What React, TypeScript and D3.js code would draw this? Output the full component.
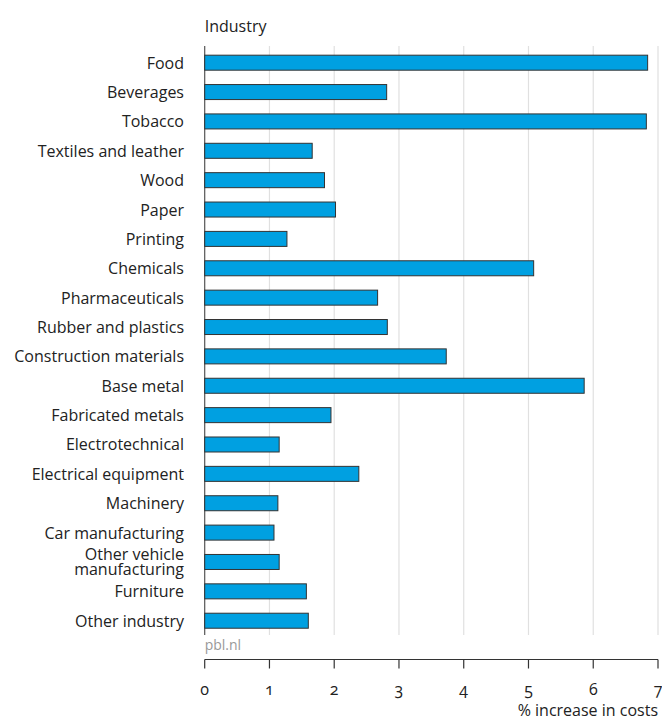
import React from "react";
import * as d3 from "d3";

const categories = [
  "Food", "Beverages", "Tobacco", "Textiles and leather", "Wood", "Paper", "Printing",
  "Chemicals", "Pharmaceuticals", "Rubber and plastics", "Construction materials",
  "Base metal", "Fabricated metals", "Electrotechnical", "Electrical equipment",
  "Machinery", "Car manufacturing", "Other vehicle manufacturing", "Furniture", "Other industry",
];
const values = [
  6.84, 2.81, 6.82, 1.66, 1.85, 2.02, 1.27,
  5.08, 2.67, 2.82, 3.73,
  5.86, 1.95, 1.15, 2.38,
  1.13, 1.07, 1.15, 1.57, 1.60,
];
const xTicks = [0, 1, 2, 3, 4, 5, 6, 7];
const labelLines: Record<string, string[]> = {
  "Other vehicle manufacturing": ["Other vehicle", "manufacturing"],
};

export default function App() {
  const W = 662, H = 722;
  const x = d3.scaleLinear().domain([0, 7]).range([204.7, 658]);
  const y = d3.scaleBand().domain(categories).range([48.0, 635.4]).paddingInner(0.489).paddingOuter(0.2445);
  const font = "'Open Sans', sans-serif";
  const axisY = 659.5;
  const fs = 16;
  return (
    <svg width={W} height={H} style={{ position: "absolute", left: 0, top: 0, display: "block" }}>
      <g fontFamily={font} fill="#222">
        <text x={x(0)} y={32} fontSize={fs}>Industry</text>
        {xTicks.slice(1).map((t) => (
          <line key={t} x1={x(t)} x2={x(t)} y1={46} y2={635} stroke="#e0e0e0" strokeWidth={1.2} />
        ))}
        <line x1={x(0)} x2={x(0)} y1={46} y2={635} stroke="#555" strokeWidth={1.2} />
        {categories.map((c, i) => (
          <rect key={c} x={x(0)} y={y(c)} width={x(values[i]) - x(0)} height={y.bandwidth()}
            fill="#00a0e1" stroke="#333" strokeWidth={1} />
        ))}
        {categories.map((c) => {
          const lines = labelLines[c] || [c];
          const cy = (y(c) as number) + y.bandwidth() / 2;
          return (
            <text key={c} textAnchor="end" fontSize={fs} fill="#222">
              {lines.map((l, j) => (
                <tspan key={j} x={184} y={cy + 6 + (j - (lines.length - 1) / 2) * 15}>{l}</tspan>
              ))}
            </text>
          );
        })}
        <text x={x(0)} y={649.5} fontSize={14} fill="#999">pbl.nl</text>
        <line x1={x(0)} x2={x(7)} y1={axisY} y2={axisY} stroke="#333" strokeWidth={1.2} />
        {xTicks.map((t) => (
          <g key={t}>
            <line x1={x(t)} x2={x(t)} y1={axisY} y2={axisY + 9} stroke="#333" strokeWidth={1.2} />
            <text x={x(t)} y={695} fontSize={fs} textAnchor="middle"
              style={{ fontVariantNumeric: "oldstyle-nums" }}>{t}</text>
          </g>
        ))}
        <text x={x(7)} y={716} fontSize={fs} textAnchor="end">% increase in costs</text>
      </g>
    </svg>
  );
}
